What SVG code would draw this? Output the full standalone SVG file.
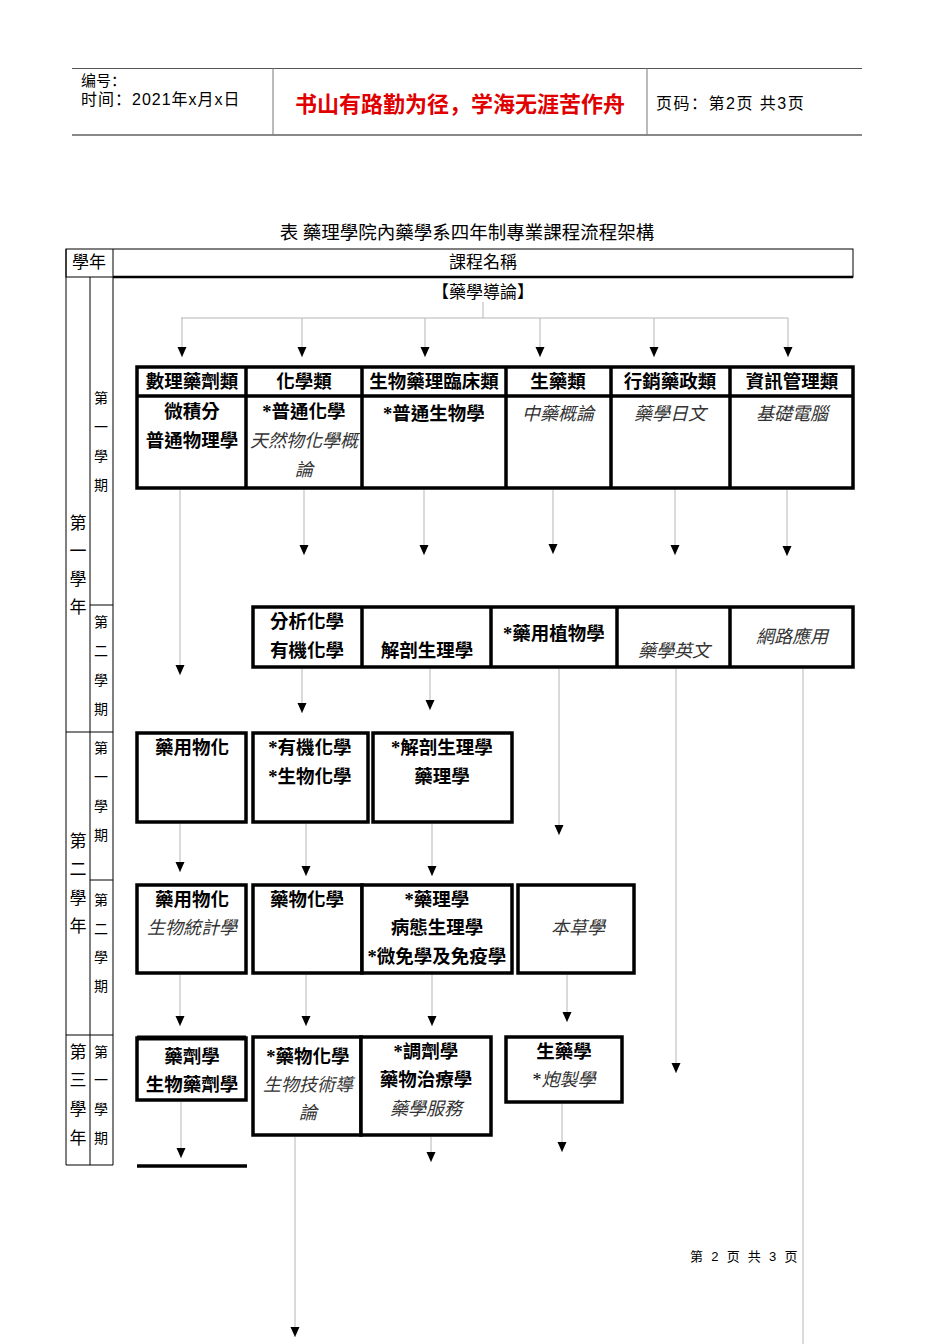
<svg xmlns="http://www.w3.org/2000/svg" width="950" height="1344" viewBox="0 0 950 1344">
<style>
text{font-family:"Liberation Serif","Noto Sans CJK TC",serif;fill:#000}
.hd{font-family:"Liberation Sans","Noto Sans CJK SC",sans-serif}
.c{text-anchor:middle;dominant-baseline:central}
.b{font-size:18.5px;font-weight:bold}
.i{font-size:18px;font-style:italic;fill:#333}
.yr{font-size:17px}
.sm{font-size:14px}
.box{fill:#fff;stroke:#000;stroke-width:3.5}
.tl{stroke:#000;stroke-width:1;fill:none}
.cn{stroke:#b5b5b5;stroke-width:1;fill:none}
</style>
<defs>
<marker id="ah" markerUnits="userSpaceOnUse" markerWidth="10" markerHeight="10" refX="10" refY="5" orient="auto" viewBox="0 0 10 10">
<path d="M0,0.5 L10,5 L0,9.5 Z" fill="#000"/>
</marker>
</defs>
<rect width="950" height="1344" fill="#fff"/>

<g id="header">
<line x1="72" y1="68.5" x2="862" y2="68.5" stroke="#555" stroke-width="1"/>
<line x1="72" y1="135" x2="862" y2="135" stroke="#888" stroke-width="2"/>
<line x1="273" y1="68" x2="273" y2="135" stroke="#777" stroke-width="1"/>
<line x1="647" y1="68" x2="647" y2="135" stroke="#777" stroke-width="1"/>
<text class="hd" x="81" y="86" font-size="15">编号：</text>
<text class="hd" x="81" y="105" font-size="16" letter-spacing="1">时间：2021年x月x日</text>
<text class="hd c" x="460" y="104" font-size="22" font-weight="bold" style="fill:#e00000">书山有路勤为径，学海无涯苦作舟</text>
<text class="hd" x="656" y="109" font-size="16" letter-spacing="1.5">页码：第2页 共3页</text>
</g>

<text id="title" class="c" x="467" y="233" font-size="18.5">表 藥理學院內藥學系四年制專業課程流程架構</text>

<g id="table">
<rect x="66" y="249" width="787" height="28" fill="none" stroke="#000" stroke-width="1"/>
<line x1="113" y1="277" x2="853" y2="277" stroke="#000" stroke-width="2.5"/>
<line x1="66" y1="249" x2="66" y2="1165" class="tl"/>
<line x1="113" y1="249" x2="113" y2="1165" class="tl"/>
<line x1="90" y1="277" x2="90" y2="1165" class="tl"/>
<line x1="66" y1="1165" x2="113" y2="1165" class="tl"/>
<line x1="66" y1="732" x2="113" y2="732" class="tl"/>
<line x1="66" y1="1035" x2="113" y2="1035" class="tl"/>
<line x1="90" y1="605" x2="113" y2="605" class="tl"/>
<line x1="90" y1="880" x2="113" y2="880" class="tl"/>
<text class="c" x="89" y="262" font-size="17">學年</text>
<text class="c" x="483" y="262" font-size="17">課程名稱</text>
<g class="yr">
<text class="c" x="78" y="523">第</text><text class="c" x="78" y="551">一</text><text class="c" x="78" y="579">學</text><text class="c" x="78" y="607">年</text>
<text class="c" x="78" y="841">第</text><text class="c" x="78" y="869">二</text><text class="c" x="78" y="898">學</text><text class="c" x="78" y="926">年</text>
<text class="c" x="78" y="1052">第</text><text class="c" x="78" y="1080">三</text><text class="c" x="78" y="1109">學</text><text class="c" x="78" y="1138">年</text>
</g>
<g class="sm">
<text class="c" x="101" y="398">第</text><text class="c" x="101" y="427">一</text><text class="c" x="101" y="456">學</text><text class="c" x="101" y="485">期</text>
<text class="c" x="101" y="622">第</text><text class="c" x="101" y="651">二</text><text class="c" x="101" y="680">學</text><text class="c" x="101" y="709">期</text>
<text class="c" x="101" y="748">第</text><text class="c" x="101" y="777">一</text><text class="c" x="101" y="806">學</text><text class="c" x="101" y="835">期</text>
<text class="c" x="101" y="900">第</text><text class="c" x="101" y="929">二</text><text class="c" x="101" y="957">學</text><text class="c" x="101" y="986">期</text>
<text class="c" x="101" y="1052">第</text><text class="c" x="101" y="1080">一</text><text class="c" x="101" y="1109">學</text><text class="c" x="101" y="1138">期</text>
</g>
</g>

<g id="root"><text class="c" x="483" y="292" font-size="17">【藥學導論】</text></g>

<g id="connectors">
<path class="cn" d="M483,302 V318 M181,318 H788"/>
<line class="cn" x1="182" y1="318" x2="182" y2="357" marker-end="url(#ah)"/>
<line class="cn" x1="302" y1="318" x2="302" y2="357" marker-end="url(#ah)"/>
<line class="cn" x1="425" y1="318" x2="425" y2="357" marker-end="url(#ah)"/>
<line class="cn" x1="540" y1="318" x2="540" y2="357" marker-end="url(#ah)"/>
<line class="cn" x1="654" y1="318" x2="654" y2="357" marker-end="url(#ah)"/>
<line class="cn" x1="788" y1="318" x2="788" y2="357" marker-end="url(#ah)"/>

<line class="cn" x1="180" y1="490" x2="180" y2="675" marker-end="url(#ah)"/>
<line class="cn" x1="304" y1="490" x2="304" y2="555" marker-end="url(#ah)"/>
<line class="cn" x1="424" y1="490" x2="424" y2="555" marker-end="url(#ah)"/>
<line class="cn" x1="553" y1="490" x2="553" y2="554" marker-end="url(#ah)"/>
<line class="cn" x1="675" y1="485" x2="675" y2="555" marker-end="url(#ah)"/>
<line class="cn" x1="787" y1="490" x2="787" y2="556" marker-end="url(#ah)"/>

<line class="cn" x1="302" y1="669" x2="302" y2="713" marker-end="url(#ah)"/>
<line class="cn" x1="430" y1="669" x2="430" y2="710" marker-end="url(#ah)"/>
<line class="cn" x1="559" y1="669" x2="559" y2="835" marker-end="url(#ah)"/>
<line class="cn" x1="676" y1="669" x2="676" y2="1073" marker-end="url(#ah)"/>
<line class="cn" x1="803" y1="669" x2="803" y2="1344"/>

<line class="cn" x1="180" y1="824" x2="180" y2="872" marker-end="url(#ah)"/>
<line class="cn" x1="306" y1="824" x2="306" y2="876" marker-end="url(#ah)"/>
<line class="cn" x1="432" y1="824" x2="432" y2="876" marker-end="url(#ah)"/>

<line class="cn" x1="180" y1="975" x2="180" y2="1026" marker-end="url(#ah)"/>
<line class="cn" x1="306" y1="975" x2="306" y2="1026" marker-end="url(#ah)"/>
<line class="cn" x1="432" y1="975" x2="432" y2="1026" marker-end="url(#ah)"/>
<line class="cn" x1="567" y1="975" x2="567" y2="1022" marker-end="url(#ah)"/>

<line class="cn" x1="181" y1="1102" x2="181" y2="1158" marker-end="url(#ah)"/>
<line class="cn" x1="295" y1="1137" x2="295" y2="1337" marker-end="url(#ah)"/>
<line class="cn" x1="431" y1="1137" x2="431" y2="1162" marker-end="url(#ah)"/>
<line class="cn" x1="562" y1="1104" x2="562" y2="1152" marker-end="url(#ah)"/>
<line x1="137" y1="1166" x2="247" y2="1166" stroke="#000" stroke-width="3.5"/>
</g>

<g id="y1s1">
<rect class="box" x="137" y="367" width="716" height="121"/>
<path d="M137,396 H853 M246,367 V488 M362,367 V488 M506,367 V488 M611,367 V488 M730,367 V488" stroke="#000" stroke-width="3.5" fill="none"/>
<g id="n-math"><text class="c b" x="192" y="382">數理藥劑類</text><text class="c b" x="192" y="412">微積分</text><text class="c b" x="192" y="441">普通物理學</text></g>
<g id="n-chem"><text class="c b" x="304" y="382">化學類</text><text class="c b" x="304" y="412">*普通化學</text><text class="c i" x="304" y="441">天然物化學概</text><text class="c i" x="304" y="470">論</text></g>
<g id="n-bio"><text class="c b" x="434" y="382">生物藥理臨床類</text><text class="c b" x="434" y="414">*普通生物學</text></g>
<g id="n-pharmacog"><text class="c b" x="558" y="382">生藥類</text><text class="c i" x="558" y="414">中藥概論</text></g>
<g id="n-market"><text class="c b" x="670" y="382">行銷藥政類</text><text class="c i" x="670" y="414">藥學日文</text></g>
<g id="n-info"><text class="c b" x="792" y="382">資訊管理類</text><text class="c i" x="792" y="414">基礎電腦</text></g>
</g>

<g id="y1s2">
<rect class="box" x="253" y="607" width="600" height="60"/>
<path d="M362,607 V667 M491,607 V667 M617,607 V667 M730,607 V667" stroke="#000" stroke-width="3.5" fill="none"/>
<g id="n-anal"><text class="c b" x="307" y="622">分析化學</text><text class="c b" x="307" y="651">有機化學</text></g>
<g id="n-anat"><text class="c b" x="427" y="651">解剖生理學</text></g>
<g id="n-plant"><text class="c b" x="554" y="634">*藥用植物學</text></g>
<g id="n-eng"><text class="c i" x="674" y="651">藥學英文</text></g>
<g id="n-net"><text class="c i" x="792" y="637">網路應用</text></g>
</g>

<g id="y2s1">
<g id="n-physchem1"><rect class="box" x="137" y="733" width="109" height="89"/><text class="c b" x="192" y="748">藥用物化</text></g>
<g id="n-orgbio"><rect class="box" x="253" y="733" width="115" height="89"/><text class="c b" x="310" y="748">*有機化學</text><text class="c b" x="310" y="777">*生物化學</text></g>
<g id="n-anatpharm"><rect class="box" x="373" y="733" width="139" height="89"/><text class="c b" x="442" y="748">*解剖生理學</text><text class="c b" x="442" y="777">藥理學</text></g>
</g>

<g id="y2s2">
<g id="n-physchem2"><rect class="box" x="137" y="885" width="109" height="88"/><text class="c b" x="192" y="900">藥用物化</text><text class="c i" x="192" y="928">生物統計學</text></g>
<g id="n-medchem"><rect class="box" x="253" y="885" width="109" height="88"/><text class="c b" x="307" y="900">藥物化學</text></g>
<g id="n-pharm"><rect class="box" x="362" y="885" width="150" height="88"/><text class="c b" x="437" y="900">*藥理學</text><text class="c b" x="437" y="928">病態生理學</text><text class="c b" x="437" y="957">*微免學及免疫學</text></g>
<g id="n-herb"><rect class="box" x="518" y="885" width="116" height="88"/><text class="c i" x="578" y="928">本草學</text></g>
</g>

<g id="y3s1">
<g id="n-pharmaceutics"><rect class="box" x="137" y="1038" width="109" height="62"/><line x1="137" y1="1038" x2="246" y2="1038" stroke="#000" stroke-width="5"/><text class="c b" x="192" y="1057">藥劑學</text><text class="c b" x="192" y="1085">生物藥劑學</text></g>
<g id="n-medchem2"><rect class="box" x="253" y="1037" width="108" height="98"/><text class="c b" x="308" y="1057">*藥物化學</text><text class="c i" x="308" y="1085">生物技術導</text><text class="c i" x="308" y="1113">論</text></g>
<g id="n-dispensing"><rect class="box" x="361" y="1037" width="130" height="98"/><text class="c b" x="426" y="1052">*調劑學</text><text class="c b" x="426" y="1080">藥物治療學</text><text class="c i" x="426" y="1109">藥學服務</text></g>
<g id="n-pharmacognosy"><rect class="box" x="506" y="1037" width="116" height="65"/><text class="c b" x="564" y="1052">生藥學</text><text class="c" x="564" y="1080" font-size="18"><tspan>*</tspan><tspan font-style="italic" fill="#333">炮製學</tspan></text></g>
</g>

<text id="footer" class="hd" x="690" y="1261" font-size="13" fill="#333" letter-spacing="2.3">第 2 页 共 3 页</text>
</svg>
